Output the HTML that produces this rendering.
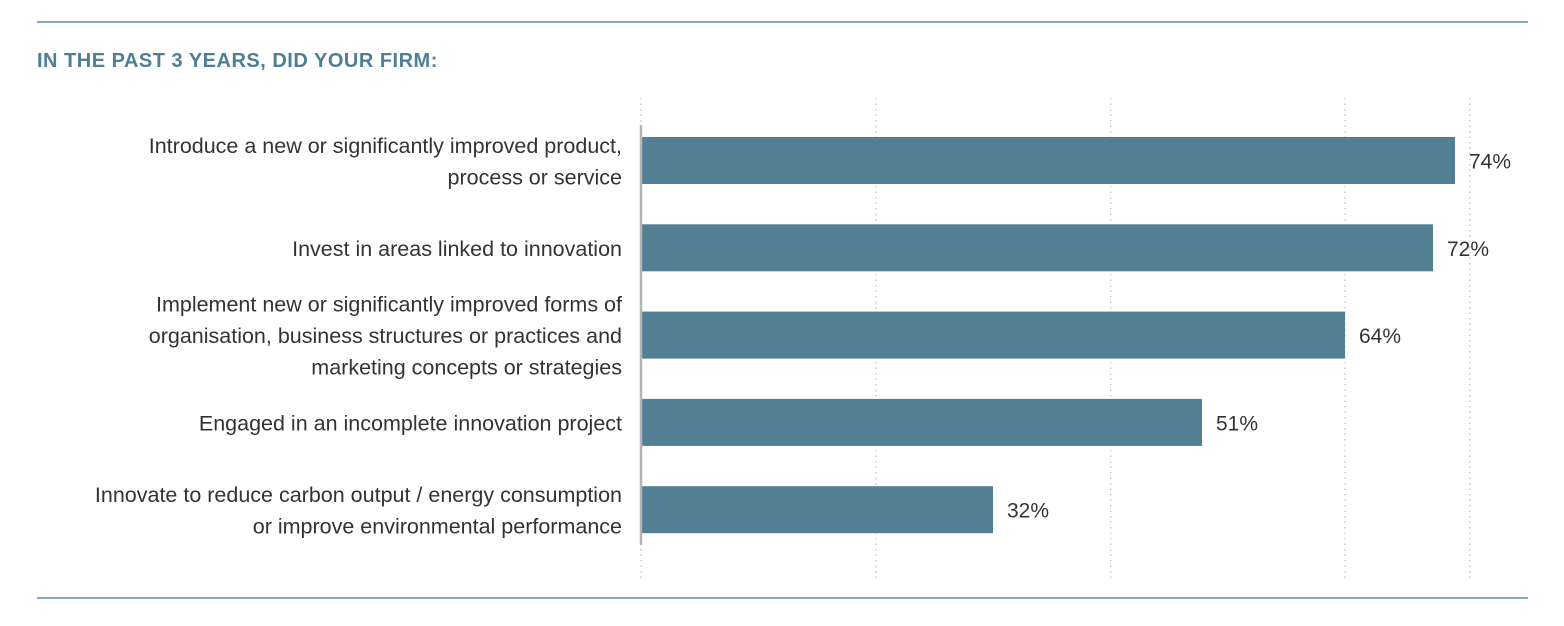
<!DOCTYPE html>
<html><head><meta charset="utf-8"><style>
body{margin:0;background:#fff;}
svg{display:block;font-family:"Liberation Sans",sans-serif;}
</style></head><body>
<svg width="1564" height="626" viewBox="0 0 1564 626">
<line x1="37" y1="22" x2="1528" y2="22" stroke="#5b8fa2" stroke-width="1.5"/>
<line x1="37" y1="598" x2="1528" y2="598" stroke="#5b8fa2" stroke-width="1.5"/>
<text x="37" y="67" font-size="20" font-weight="bold" fill="#4f7f95" letter-spacing="0.5">IN THE PAST 3 YEARS, DID YOUR FIRM:</text>
<g id="grid"></g><g id="bars"></g>
<line x1="641" y1="125" x2="641" y2="545" stroke="#b5b5b5" stroke-width="2.5"/>
</svg>
<script>
const categories=[
["Introduce a new or significantly improved product,","process or service"],
["Invest in areas linked to innovation"],
["Implement new or significantly improved forms of","organisation, business structures or practices and","marketing concepts or strategies"],
["Engaged in an incomplete innovation project"],
["Innovate to reduce carbon output / energy consumption","or improve environmental performance"]];
const values=[74,72,64,51,32];
const valueLabels=["74%","72%","64%","51%","32%"];
const gridValues=[0,21.35,42.7,64,75.35];
const NS="http://www.w3.org/2000/svg";
const x0=641,pxPer=11.0,yTop=137,step=87.3,barH=47;
const xs=v=>x0+v*pxPer, ys=i=>yTop+i*step;
function mk(t,a,p){const e=document.createElementNS(NS,t);for(const k in a)e.setAttribute(k,a[k]);p.appendChild(e);return e;}
const g=document.getElementById('grid'),b=document.getElementById('bars');
gridValues.forEach((v,i)=>{
 const l=mk('line',{x1:xs(v),x2:xs(v),y1:98,y2:578,stroke:'#c4c4c4','stroke-width':1.3,'stroke-dasharray':'1.5 4'},g);
 
 
});
values.forEach((v,i)=>{
 const y=ys(i);
 const r=mk('rect',{x:x0,y:y,width:xs(v)-x0,height:barH,fill:'#537f94'},b);
 
 
 const t=mk('text',{x:xs(v)+14,y:y+barH/2+8,'font-size':21,fill:'#333'},b);
 t.textContent=valueLabels[i];
 
 
 const lines=categories[i],lh=31.5,cy=y+barH/2;
 lines.forEach((s,j)=>{
  const tt=mk('text',{x:622,y:cy+(j-(lines.length-1)/2)*lh+8,'font-size':21.5,'text-anchor':'end',fill:'#333'},b);
  tt.textContent=s;
  
  
 });
});
</script>
</body></html>
